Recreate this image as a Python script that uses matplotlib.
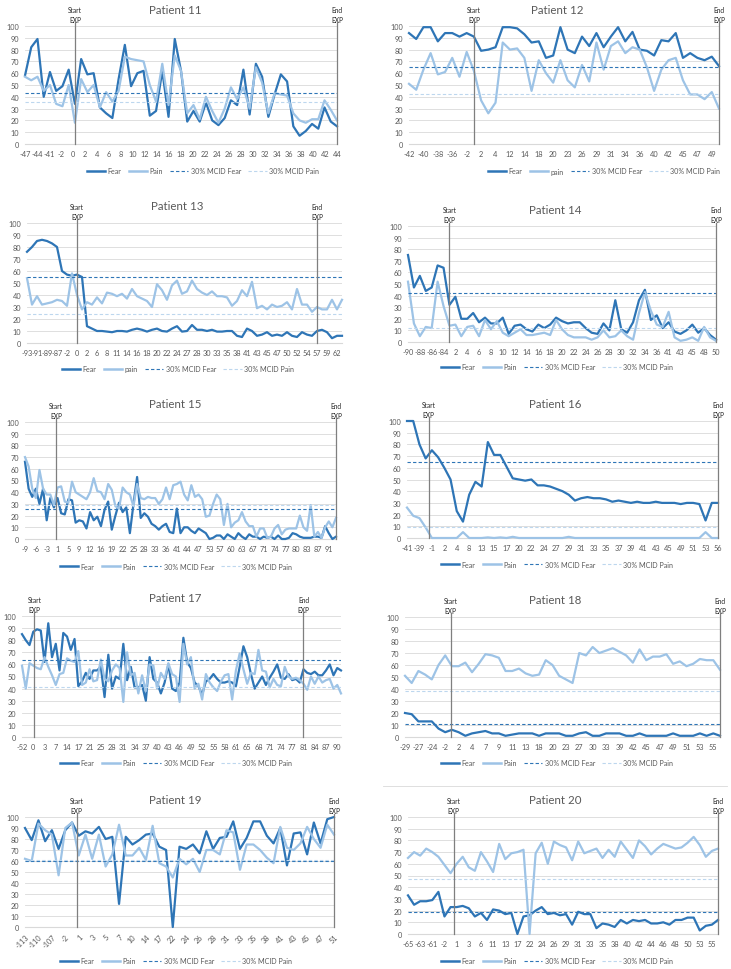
import matplotlib
matplotlib.use('Agg')
import matplotlib.pyplot as plt
from matplotlib.lines import Line2D
import numpy as np

plt.rcParams['font.family'] = ['Lato', 'DejaVu Sans']

FEAR_COLOR = '#2E75B6'
PAIN_COLOR = '#9DC3E6'
MCID_PAIN_COLOR = '#BDD7EE'
GRID_COLOR = '#D9D9D9'
TEXT_COLOR = '#595959'
W, H = 731, 970

# ---- data ----
p11_fear = [58, 82, 89, 40, 61, 45, 49, 63, 34, 72, 59, 60, 31, 26, 22, 55, 84, 49, 60, 62, 24, 28, 62, 23, 89, 62,
            19, 28, 19, 35, 20, 16, 22, 37, 33, 63, 25, 68, 57, 23, 42, 59, 53, 15, 7, 11, 17, 13, 31, 19, 15]
p11_pain = [57, 54, 57, 45, 50, 34, 32, 50, 18, 55, 44, 50, 31, 44, 36, 45, 74, 72, 71, 70, 50, 36, 68, 33, 75, 62,
            26, 33, 21, 40, 28, 18, 30, 48, 38, 48, 30, 65, 52, 26, 43, 42, 41, 26, 20, 18, 21, 21, 37, 29, 20]
p11_labels = ['-47', '-44', '-41', '-2', '0', '2', '4', '6', '8', '10', '12', '14', '16', '18', '20', '22', '24',
              '26', '28', '30', '32', '34', '36', '38', '40', '42', '44']
p11_start, p11_end = 8, 50
p11_mcid = (43, 36)

p12_fear = [94, 89, 99, 99, 87, 94, 94, 91, 94, 91, 79, 80, 82, 99, 99, 98, 93, 86, 87, 73, 75, 99, 80, 77, 91, 83,
            94, 82, 91, 99, 87, 95, 80, 79, 75, 88, 87, 94, 73, 77, 73, 71, 74, 66]
p12_pain = [51, 46, 63, 77, 59, 61, 73, 57, 78, 62, 37, 26, 35, 86, 80, 81, 73, 45, 71, 60, 52, 71, 54, 48, 67, 53,
            86, 63, 83, 87, 77, 82, 80, 65, 45, 63, 71, 73, 54, 42, 42, 38, 44, 30]
p12_labels = ['-42', '-40', '-38', '-36', '-2', '2', '4', '12', '14', '18', '20', '23', '26', '29', '31', '34', '36',
              '40', '42', '45', '47', '49']
p12_start, p12_end = 9, 43
p12_mcid = (65, 42)

p13_fear = [76, 80, 85, 86, 85, 83, 80, 60, 57, 56, 57, 55, 14, 12, 10, 10, 9.5, 9, 10, 10, 9.5, 11, 12, 11, 9.5, 11,
            12, 10, 9.5, 12, 14, 9.5, 10, 15, 11, 11, 10, 11, 9.5, 9.5, 10, 10, 6, 5, 12, 10, 6, 7, 9, 6, 7, 6, 9, 6,
            5, 9, 7, 6, 10, 11, 9, 4, 6, 6]
p13_pain = [54, 32, 39, 32, 33, 34, 36, 35, 31, 58, 40, 28, 34, 32, 38, 33, 42, 41, 39, 41, 37, 45, 39, 37, 35, 30,
            49, 44, 36, 48, 52, 41, 43, 52, 45, 42, 40, 43, 39, 39, 38, 31, 35, 44, 39, 51, 29, 31, 28, 32, 30, 31,
            34, 28, 45, 32, 32, 26, 30, 28, 28, 36, 28, 36]
p13_labels = ['-93', '-91', '-89', '-87', '-2', '0', '2', '6', '8', '11', '14', '16', '18', '20', '22', '24', '27',
              '28', '30', '33', '35', '38', '41', '43', '45', '47', '50', '52', '54', '57', '59', '62']
p13_start, p13_end = 10, 58
p13_mcid = (55, 24)

p14_fear = [75, 47, 57, 44, 47, 66, 64, 32, 39, 20, 20, 25, 17, 21, 16, 16, 21, 7, 14, 15, 11, 9, 15, 12, 15, 21,
            18, 16, 17, 17, 12, 8, 7, 16, 10, 36, 11, 8, 17, 36, 45, 19, 23, 12, 17, 9, 7, 10, 15, 8, 12, 6, 2]
p14_pain = [52, 16, 5, 13, 12, 52, 31, 14, 15, 5, 13, 14, 5, 19, 11, 18, 8, 5, 8, 11, 6, 6, 7, 8, 6, 19, 11, 6, 4,
            4, 4, 2, 4, 10, 4, 5, 10, 5, 2, 25, 43, 27, 15, 13, 26, 4, 1, 2, 4, 1, 13, 4, 1]
p14_labels = ['-90', '-88', '-86', '-84', '2', '4', '6', '8', '10', '12', '14', '16', '18', '20', '22', '24', '26',
              '28', '30', '32', '34', '36', '41', '43', '45', '48', '50']
p14_start, p14_end = 7, 52
p14_mcid = (42, 12)

p15_fear = [66, 43, 36, 43, 30, 43, 16, 35, 27, 35, 22, 21, 34, 33, 14, 16, 15, 9, 23, 16, 19, 11, 25, 32, 8, 20,
            31, 23, 27, 5, 30, 53, 18, 22, 19, 13, 11, 8, 11, 13, 6, 5, 26, 5, 10, 10, 7, 5, 9, 7, 5, 0, 1, 3, 3, 0,
            4, 2, 0, 5, 2, 0, 4, 2, 2, 0, 2, 1, 2, 0, 3, 0, 0, 1, 5, 4, 2, 1, 1, 1, 2, 2, 1, 11, 5, 0, 2]
p15_pain = [70, 62, 43, 35, 59, 43, 38, 38, 29, 44, 45, 32, 31, 49, 40, 38, 36, 34, 40, 52, 41, 40, 34, 47, 42, 28,
            26, 44, 40, 38, 28, 47, 35, 34, 36, 35, 35, 30, 34, 44, 34, 46, 47, 49, 38, 33, 46, 36, 38, 34, 19, 20,
            30, 38, 34, 12, 30, 10, 14, 16, 23, 15, 11, 11, 2, 9, 9, 1, 2, 9, 12, 4, 8, 9, 9, 9, 20, 10, 7, 29, 2, 6,
            1, 10, 15, 10, 18]
p15_labels = ['-9', '-6', '-3', '1', '5', '9', '12', '16', '19', '22', '25', '28', '33', '36', '41', '44', '47',
              '53', '57', '60', '63', '67', '71', '74', '77', '80', '83', '87', '91']
p15_start, p15_end = 8.6, 86
p15_mcid = (26, 29)

p16_fear = [100, 100, 80, 68, 75, 69, 60, 50, 23, 14, 37, 48, 44, 82, 71, 71, 61, 51, 50, 49, 50, 45, 45, 44, 42,
            40, 37, 32, 34, 35, 34, 34, 33, 31, 32, 31, 30, 31, 30, 30, 31, 30, 30, 30, 29, 30, 30, 29, 15, 30, 30]
p16_pain = [26, 19, 17, 9, 0, 0, 0, 0, 0, 5, 0, 0, 0, 0.5, 0, 0.5, 0, 1, 0, 0, 0, 0, 0, 0, 0, 0, 1, 0, 0, 0, 0, 0,
            0, 0, 0, 0, 0, 0, 0, 0, 0, 0, 0, 0, 0, 0, 0, 0, 5, 0, 0]
p16_labels = ['-41', '-39', '-1', '2', '4', '8', '13', '15', '17', '20', '22', '24', '27', '29', '31', '33', '35',
              '37', '39', '41', '43', '45', '49', '51', '53', '56']
p16_start, p16_end = 3.5, 50
p16_mcid = (65, 9)

p17_fear = [85, 80, 76, 87, 89, 88, 62, 94, 66, 77, 55, 86, 83, 72, 81, 42, 46, 53, 48, 55, 55, 58, 33, 68, 40, 50,
            48, 77, 47, 58, 41, 41, 43, 30, 66, 48, 45, 36, 45, 60, 40, 38, 45, 82, 62, 57, 45, 42, 35, 46, 48, 52,
            48, 45, 45, 46, 45, 42, 58, 75, 66, 52, 40, 45, 50, 43, 49, 54, 60, 49, 48, 52, 47, 48, 45, 56, 53, 52,
            54, 51, 51, 55, 60, 51, 57, 55]
p17_pain = [59, 40, 61, 59, 57, 56, 66, 58, 51, 43, 52, 53, 65, 63, 62, 71, 43, 45, 56, 46, 47, 64, 48, 46, 55, 60,
            57, 29, 70, 51, 53, 36, 51, 38, 60, 59, 40, 53, 48, 61, 52, 50, 29, 77, 60, 66, 40, 44, 31, 52, 45, 41,
            38, 46, 51, 52, 31, 55, 69, 56, 44, 53, 52, 72, 55, 54, 41, 48, 43, 42, 58, 50, 48, 49, 47, 44, 39, 50,
            44, 50, 45, 47, 48, 40, 43, 36]
p17_labels = ['-52', '0', '3', '7', '14', '17', '21', '25', '28', '31', '34', '37', '40', '43', '46', '49', '52',
              '55', '58', '61', '65', '68', '71', '74', '77', '81', '84', '87', '90']
p17_start, p17_end = 3.3, 75
p17_mcid = (64, 41)

p18_fear = [20, 19, 13, 13, 13, 7, 4, 6, 4, 1, 3, 4, 5, 3, 3, 1, 2, 3, 3, 3, 1, 3, 3, 3, 1, 1, 3, 4, 1, 1, 3, 3, 3,
            1, 1, 3, 1, 1, 1, 1, 3, 1, 1, 1, 3, 1, 3, 1]
p18_pain = [51, 45, 55, 52, 48, 60, 68, 59, 59, 62, 54, 61, 69, 68, 66, 55, 55, 57, 53, 51, 52, 64, 60, 51, 48, 45,
            70, 68, 75, 70, 72, 74, 71, 68, 62, 73, 64, 67, 67, 69, 61, 63, 59, 61, 65, 64, 64, 56]
p18_labels = ['-29', '-27', '-24', '-2', '2', '4', '7', '9', '11', '13', '18', '20', '23', '27', '30', '33', '39',
              '42', '45', '47', '49', '51', '53', '55']
p18_start, p18_end = 6.8, 47
p18_mcid = (11, 38)

p19_fear = [90, 79, 97, 78, 88, 71, 88, 95, 83, 87, 85, 91, 80, 82, 21, 82, 75, 79, 84, 85, 73, 70, 0, 73, 71, 75,
            67, 87, 71, 81, 82, 96, 71, 81, 96, 96, 83, 76, 90, 56, 85, 86, 66, 95, 76, 98, 100]
p19_pain = [62, 60, 94, 88, 84, 47, 90, 95, 65, 84, 62, 84, 55, 66, 93, 65, 65, 72, 61, 92, 58, 55, 45, 62, 57, 62,
            50, 70, 70, 66, 88, 86, 52, 75, 75, 70, 63, 58, 91, 72, 70, 76, 91, 80, 72, 93, 84]
p19_labels = ['-113', '-110', '-107', '-2', '1', '3', '5', '7', '10', '14', '17', '22', '24', '26', '28', '31', '33',
              '35', '38', '41', '43', '45', '47', '51']
p19_start, p19_end = 7.7, 46
p19_mcid = (60, 61)

p20_fear = [33, 25, 28, 28, 29, 36, 15, 23, 23, 24, 22, 15, 18, 12, 21, 20, 17, 18, 0, 15, 16, 20, 23, 17, 18, 16,
            17, 8, 19, 17, 17, 5, 9, 8, 6, 12, 9, 12, 11, 12, 9, 9, 10, 8, 12, 12, 14, 14, 3, 7, 8, 12]
p20_pain = [65, 70, 67, 73, 70, 66, 59, 52, 60, 66, 57, 54, 70, 62, 53, 77, 64, 69, 70, 72, 0, 69, 78, 60, 79, 76,
            74, 63, 79, 69, 71, 73, 65, 72, 66, 79, 72, 65, 80, 75, 68, 73, 77, 75, 73, 74, 78, 83, 76, 66, 71, 73]
p20_labels = ['-65', '-63', '-61', '-2', '1', '3', '6', '11', '13', '17', '22', '24', '26', '29', '31', '33', '35',
              '38', '40', '42', '44', '46', '48', '50', '53', '55']
p20_start, p20_end = 7.5, 51
p20_mcid = (19, 47)


def add_axes_px(fig, left, right, top, bottom):
    return fig.add_axes([left / W, 1 - bottom / H, (right - left) / W, (bottom - top) / H])


def draw_panel(fig, box, title, title_xy, legend_xy, fear, pain, labels, step, start, end, mcid,
               pain_name='Pain', rotate=False):
    ax = add_axes_px(fig, *box)
    x = np.arange(len(fear))
    ax.set_xlim(0, len(fear) - 1)
    ax.set_ylim(0, 100)
    ax.set_yticks(range(0, 101, 10))
    ax.grid(axis='y', color=GRID_COLOR, lw=0.6)
    ax.set_axisbelow(True)
    ax.set_xticks(np.arange(len(labels)) * step)
    if rotate:
        ax.set_xticklabels(labels, rotation=45, ha='right', rotation_mode='anchor')
    else:
        ax.set_xticklabels(labels)
    for s in ['top', 'right', 'left']:
        ax.spines[s].set_visible(False)
    ax.spines['bottom'].set_color(GRID_COLOR)
    ax.tick_params(length=0, labelsize=5.3, colors=TEXT_COLOR, pad=4)

    ax.plot([start, start], [0, 103], color='#7F7F7F', lw=0.9, clip_on=False, zorder=5)
    ax.plot([end, end], [0, 103], color='#7F7F7F', lw=0.9, clip_on=False, zorder=5)
    ax.text(start, 102.5, 'Start\nEXP', ha='center', va='bottom', fontsize=4.8, color='#262626',
            linespacing=1.5, clip_on=False)
    ax.text(end, 102.5, 'End\nEXP', ha='center', va='bottom', fontsize=4.8, color='#262626',
            linespacing=1.5, clip_on=False)

    ax.plot(x, fear, color=FEAR_COLOR, lw=1.6, clip_on=False, zorder=3)
    ax.plot(x, pain, color=PAIN_COLOR, lw=1.6, clip_on=False, zorder=3)
    ax.axhline(mcid[0], color=FEAR_COLOR, ls=(0, (3, 2)), lw=0.8, zorder=4)
    ax.axhline(mcid[1], color=MCID_PAIN_COLOR, ls=(0, (3, 2)), lw=0.8, zorder=4)

    fig.text(title_xy[0] / W, 1 - title_xy[1] / H, title, ha='center', va='center',
             fontsize=8.3, color=TEXT_COLOR)

    handles = [Line2D([], [], color=FEAR_COLOR, lw=1.8),
               Line2D([], [], color=PAIN_COLOR, lw=1.8),
               Line2D([], [], color=FEAR_COLOR, lw=0.8, ls=(0, (3, 2))),
               Line2D([], [], color=MCID_PAIN_COLOR, lw=0.8, ls=(0, (3, 2)))]
    names = ['Fear', pain_name, '30% MCID Fear', '30% MCID Pain']
    leg = ax.legend(handles, names, loc='center', ncol=4, frameon=False, fontsize=5.1,
                    bbox_to_anchor=(legend_xy[0] / W, 1 - legend_xy[1] / H),
                    bbox_transform=fig.transFigure, handlelength=2.6, handletextpad=0.35,
                    columnspacing=1.0, borderpad=0.2)
    for t in leg.get_texts():
        t.set_color(TEXT_COLOR)
    return ax


def main():
    fig = plt.figure(figsize=(W / 100, H / 100), dpi=100)

    draw_panel(fig, (25, 337, 27, 145), 'Patient 11', (175, 10), (203, 172),
               p11_fear, p11_pain, p11_labels, 50 / 26, p11_start, p11_end, p11_mcid)
    draw_panel(fig, (409, 719, 27, 145), 'Patient 12', (557, 10), (604, 172),
               p12_fear, p12_pain, p12_labels, 2, p12_start, p12_end, p12_mcid, pain_name='pain')
    draw_panel(fig, (27, 342, 224, 344), 'Patient 13', (177, 207), (178, 370),
               p13_fear, p13_pain, p13_labels, 2, p13_start, p13_end, p13_mcid, pain_name='pain')
    draw_panel(fig, (408, 716, 227, 343), 'Patient 14', (555, 210), (557, 368),
               p14_fear, p14_pain, p14_labels, 2, p14_start, p14_end, p14_mcid)
    draw_panel(fig, (25, 336, 423, 540), 'Patient 15', (175, 405), (176, 567),
               p15_fear, p15_pain, p15_labels, 3, p15_start, p15_end, p15_mcid)
    draw_panel(fig, (407, 718, 422, 539), 'Patient 16', (555, 405), (557, 565),
               p16_fear, p16_pain, p16_labels, 2, p16_start, p16_end, p16_mcid)
    draw_panel(fig, (22, 341, 617, 738), 'Patient 17', (175, 599), (176, 764),
               p17_fear, p17_pain, p17_labels, 3, p17_start, p17_end, p17_mcid)
    draw_panel(fig, (405, 720, 618, 738), 'Patient 18', (555, 601), (557, 764),
               p18_fear, p18_pain, p18_labels, 2, p18_start, p18_end, p18_mcid)
    draw_panel(fig, (25, 334, 818, 928), 'Patient 19', (175, 801), (176, 962),
               p19_fear, p19_pain, p19_labels, 2, p19_start, p19_end, p19_mcid, rotate=True)
    draw_panel(fig, (408, 718, 818, 935), 'Patient 20', (555, 801), (557, 962),
               p20_fear, p20_pain, p20_labels, 2, p20_start, p20_end, p20_mcid)

    # faint chart border visible above Patient 20
    fig.add_artist(Line2D([383 / W, 727 / W], [1 - 787 / H, 1 - 787 / H], color=GRID_COLOR, lw=0.6))

    fig.savefig('out.png', dpi=100, facecolor='white')


if __name__ == "__main__":
    main()
